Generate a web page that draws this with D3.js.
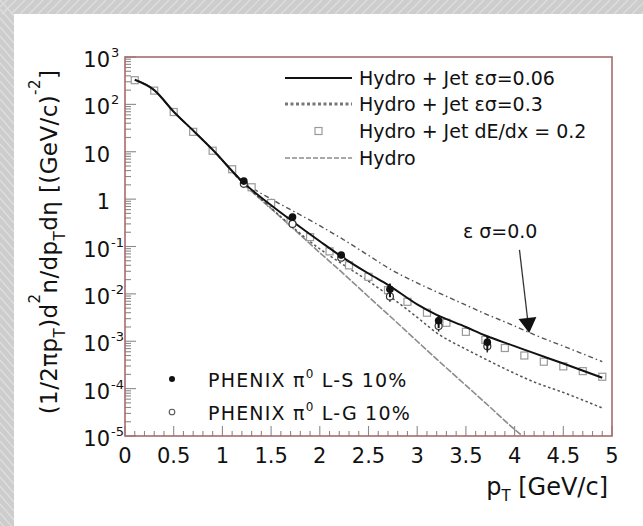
<!DOCTYPE html>
<html><head><meta charset="utf-8">
<script src="https://cdn.jsdelivr.net/npm/d3@7"></script>
<style>body{margin:0;background:#cfcfcf;} svg{display:block;}</style>
</head><body>
<svg id="c" width="643" height="526"></svg>
<script>
// ---------------- data ----------------
const ptGrid   = [0.1,0.3,0.5,0.7,0.9,1.2,1.5,1.7,2.0,2.2,2.5,2.7,3.0,3.2,3.5,3.7,4.0,4.2,4.5,4.9];
const jet006   = [331,200,70,28,11,2.40,0.74,0.363,0.129,0.066,0.0269,0.0155,6.0e-3,3.6e-3,2.0e-3,1.32e-3,7.9e-4,5.6e-4,3.4e-4,1.7e-4];
const jet03    = [331,200,70,28,11,2.30,0.65,0.28,0.089,0.047,0.0186,9.5e-3,3.2e-3,1.5e-3,6.8e-4,4.2e-4,2.1e-4,1.38e-4,8.3e-5,3.9e-5];
const jet00    = [331,200,70,28,11,2.50,1.00,0.60,0.275,0.158,0.065,0.0355,0.017,0.011,5.8e-3,3.8e-3,2.1e-3,1.38e-3,7.9e-4,3.7e-4];
const hydroPt  = [0.1,0.3,0.5,0.7,0.9,1.2,1.5,1.7,2.0,2.2,2.5,2.7,3.0,3.2,3.5,3.7,4.0,4.2];
const hydro    = [331,200,70,28,11,2.30,0.63,0.27,0.074,0.032,8.7e-3,3.7e-3,1.0e-3,4.2e-4,1.17e-4,5.0e-5,1.38e-5,6.3e-6];
const dedxPt   = [0.1,0.3,0.5,0.7,0.9,1.1,1.3,1.5,1.7,1.9,2.1,2.3,2.5,2.7,2.9,3.1,3.3,3.5,3.7,3.9,4.1,4.3,4.5,4.7,4.9];
const dedx     = [324,195,69,26.3,10.5,4.27,1.78,0.83,0.355,0.158,0.079,0.040,0.0229,0.0120,6.8e-3,4.0e-3,2.45e-3,1.58e-3,1.07e-3,7.2e-4,5.0e-4,3.7e-4,2.95e-4,2.34e-4,1.78e-4];
const phenixPt = [1.22,1.72,2.22,2.72,3.22,3.72];
const lsVal    = [2.4,0.42,0.066,0.0125,2.7e-3,9.5e-4];
const lsErr    = [0.25,0.07,0.010,0.004,0.0008,0.0003];
const lgVal    = [2.1,0.30,0.058,0.0088,2.1e-3,7.8e-4];
const lgErr    = [0.2,0.05,0.008,0.002,0.0005,0.0002];
const xTickLabels = ["0","0.5","1","1.5","2","2.5","3","3.5","4","4.5","5"];
const yTickExps   = [-5,-4,-3,-2,-1,0,1,2,3];
const legendTop = ["Hydro + Jet εσ=0.06","Hydro + Jet εσ=0.3","Hydro + Jet dE/dx = 0.2","Hydro"];
const legendBottom = [["PHENIX π","0"," L-S 10%"],["PHENIX π","0"," L-G 10%"]];
const annotation = {label:"ε σ=0.0", x:3.47, y:0.15, from:[4.05,0.085], to:[4.15,1.5e-3]};

// ---------------- layout ----------------
const svg = d3.select("#c");
const F = "DejaVu Sans, sans-serif";
const L = 125, R = 612, T = 57, B = 436;
const x = d3.scaleLinear().domain([0,5]).range([L,R]);
const y = d3.scaleLog().domain([1e-5,1e3]).range([B,T]);

svg.append("rect").attr("width",643).attr("height",526).attr("fill","#cdcdcd");
const tex = svg.append("g").attr("stroke","#e4e4e4").attr("stroke-width",1.2).attr("opacity",0.8);
for (let i=-20;i<700;i+=9){ tex.append("line").attr("x1",i).attr("y1",0).attr("x2",i-14).attr("y2",14); }
for (let j=0;j<540;j+=9){ tex.append("line").attr("x1",0).attr("y1",j).attr("x2",14).attr("y2",j+16); }
svg.append("rect").attr("x",14).attr("y",14).attr("width",629).attr("height",512).attr("fill","#fff");

svg.append("defs").append("clipPath").attr("id","clip")
  .append("rect").attr("x",L).attr("y",T).attr("width",R-L).attr("height",B-T);

// ticks
const tg = svg.append("g").attr("stroke","#8a8a8a").attr("stroke-width",1.1);
d3.range(0,51).forEach(i=>{
  const v=i/10, len = (i%5===0)?10:5;
  tg.append("line").attr("x1",x(v)).attr("x2",x(v)).attr("y1",B).attr("y2",B-len);
});
yTickExps.forEach(e=>{
  const ms = e<3 ? d3.range(1,10) : [1];
  ms.forEach(m=>{
    const v = m*Math.pow(10,e), len = m===1?11:6;
    tg.append("line").attr("x1",L).attr("x2",L+len).attr("y1",y(v)).attr("y2",y(v));
  });
});

// curves
const line = d3.line().x(d=>x(d[0])).y(d=>y(d[1])).curve(d3.curveMonotoneX);
const cg = svg.append("g").attr("clip-path","url(#clip)").attr("fill","none");
cg.append("path").datum(d3.zip(hydroPt,hydro)).attr("d",line)
  .attr("stroke","#8c8c8c").attr("stroke-width",1.6).attr("stroke-dasharray","7,1.5");
cg.append("path").datum(d3.zip(ptGrid,jet03)).attr("d",line)
  .attr("stroke","#555").attr("stroke-width",1.5).attr("stroke-dasharray","2.5,2.5");
cg.append("path").datum(d3.zip(ptGrid,jet00)).attr("d",line)
  .attr("stroke","#555").attr("stroke-width",1.4).attr("stroke-dasharray","5,3,1.5,3");
cg.selectAll("rect.sq").data(d3.zip(dedxPt,dedx)).join("rect")
  .attr("x",d=>x(d[0])-3.5).attr("y",d=>y(d[1])-3.5).attr("width",7).attr("height",7)
  .attr("fill","#fff").attr("stroke","#9a9a9a").attr("stroke-width",1.2);
cg.append("path").datum(d3.zip(ptGrid,jet006)).attr("d",line)
  .attr("stroke","#111").attr("stroke-width",2);

// data points
const lg = d3.zip(phenixPt,lgVal,lgErr);
const ls = d3.zip(phenixPt,lsVal,lsErr);
const dg = svg.append("g");
dg.selectAll("line.lg").data(lg).join("line")
  .attr("x1",d=>x(d[0])).attr("x2",d=>x(d[0])).attr("y1",d=>y(d[1]-d[2])).attr("y2",d=>y(d[1]+d[2]))
  .attr("stroke","#222").attr("stroke-width",1.5);
dg.selectAll("circle.lg").data(lg).join("circle")
  .attr("cx",d=>x(d[0])).attr("cy",d=>y(d[1])).attr("r",3.5)
  .attr("fill","#fff").attr("stroke","#333").attr("stroke-width",1.2);
dg.selectAll("line.ls").data(ls).join("line")
  .attr("x1",d=>x(d[0])).attr("x2",d=>x(d[0])).attr("y1",d=>y(d[1]-d[2])).attr("y2",d=>y(d[1]+d[2]))
  .attr("stroke","#111").attr("stroke-width",2);
dg.selectAll("circle.ls").data(ls).join("circle")
  .attr("cx",d=>x(d[0])).attr("cy",d=>y(d[1])).attr("r",3.8).attr("fill","#111");

// frame
svg.append("rect").attr("x",L).attr("y",T).attr("width",R-L).attr("height",B-T)
  .attr("fill","none").attr("stroke","#a86c6c").attr("stroke-width",1.6);

// tick labels
const xl = svg.append("g").attr("font-family",F).attr("font-size",21).attr("fill","#111").attr("text-anchor","middle");
xTickLabels.forEach(t=>{ xl.append("text").attr("x",x(+t)).attr("y",463).text(t); });
const yl = svg.append("g").attr("font-family",F).attr("fill","#111");
yTickExps.forEach(e=>{
  const yy = y(Math.pow(10,e))+10;
  const base = e===0 ? "1" : "10";
  yl.append("text").attr("x",110).attr("y",yy).attr("font-size",21).attr("text-anchor","end").text(base);
  if (e!==0 && e!==1){
    yl.append("text").attr("x",111).attr("y",yy-10).attr("font-size",13).text(String(e));
  }
});

// axis titles
const xt = svg.append("text").attr("x",608).attr("y",495).attr("font-family",F).attr("font-size",24)
  .attr("text-anchor","end").attr("fill","#111");
xt.append("tspan").text("p");
xt.append("tspan").attr("font-size",15).attr("dy",6).text("T");
xt.append("tspan").attr("dy",-6).text(" [GeV/c]");

const yt = svg.append("text").attr("transform","translate(57,242) rotate(-90)")
  .attr("font-family",F).attr("font-size",23).attr("text-anchor","middle").attr("fill","#111")
  .attr("letter-spacing",0.4);
[["(1/2πp",0,23],["T",8,15],[")d",-8,23],["2",-17,15],["n/dp",17,23],["T",8,15],["dη [(GeV/c)",-8,23],["-2",-17,15],["]",17,23]]
  .forEach(([t,dy,fs])=>{ yt.append("tspan").attr("dy",dy).attr("font-size",fs).text(t); });

// legend top-right
const lgd = svg.append("g").attr("font-family",F).attr("font-size",19).attr("fill","#111");
const rowsY = [78,104,131,158];
const styles = [
  {stroke:"#111",w:2,dash:null},
  {stroke:"#777",w:3,dash:"3,2.5"},
  null,
  {stroke:"#8c8c8c",w:1.6,dash:"5,2"}
];
legendTop.forEach((t,i)=>{
  const s = styles[i];
  if (s) lgd.append("line").attr("x1",285).attr("x2",352).attr("y1",rowsY[i]).attr("y2",rowsY[i])
           .attr("stroke",s.stroke).attr("stroke-width",s.w).attr("stroke-dasharray",s.dash);
  else lgd.append("rect").attr("x",315).attr("y",rowsY[i]-3.5).attr("width",7).attr("height",7)
           .attr("fill","#fff").attr("stroke","#9a9a9a").attr("stroke-width",1.2);
  lgd.append("text").attr("x",359).attr("y",rowsY[i]+7).text(t);
});

// legend bottom-left
const bl = svg.append("g").attr("font-family",F).attr("font-size",19).attr("fill","#111").attr("letter-spacing",1.2);
const bRows = [379,412];
bl.append("circle").attr("cx",172).attr("cy",bRows[0]).attr("r",3).attr("fill","#111");
bl.append("circle").attr("cx",172).attr("cy",bRows[1]).attr("r",2.8).attr("fill","none").attr("stroke","#555").attr("stroke-width",1.1);
legendBottom.forEach((parts,i)=>{
  const t = bl.append("text").attr("x",208).attr("y",bRows[i]+7.5);
  t.append("tspan").text(parts[0]);
  t.append("tspan").attr("font-size",12).attr("dy",-9).text(parts[1]);
  t.append("tspan").attr("dy",9).text(parts[2]);
});

// annotation
svg.append("text").attr("x",x(annotation.x)).attr("y",y(annotation.y)).attr("font-family",F)
  .attr("font-size",19).attr("fill","#111").text(annotation.label);
const ax1=x(annotation.from[0]), ay1=y(annotation.from[1]), ax2=x(annotation.to[0]), ay2=y(annotation.to[1]);
const ang = Math.atan2(ay2-ay1, ax2-ax1), hl=15, hw=9;
const bx = ax2-hl*Math.cos(ang), by = ay2-hl*Math.sin(ang);
svg.append("line").attr("x1",ax1).attr("y1",ay1).attr("x2",bx).attr("y2",by).attr("stroke","#333").attr("stroke-width",1.3);
svg.append("path").attr("fill","#111")
  .attr("d",`M${ax2},${ay2}L${bx+hw*Math.sin(ang)},${by-hw*Math.cos(ang)}L${bx-hw*Math.sin(ang)},${by+hw*Math.cos(ang)}Z`);
</script>
</body></html>
